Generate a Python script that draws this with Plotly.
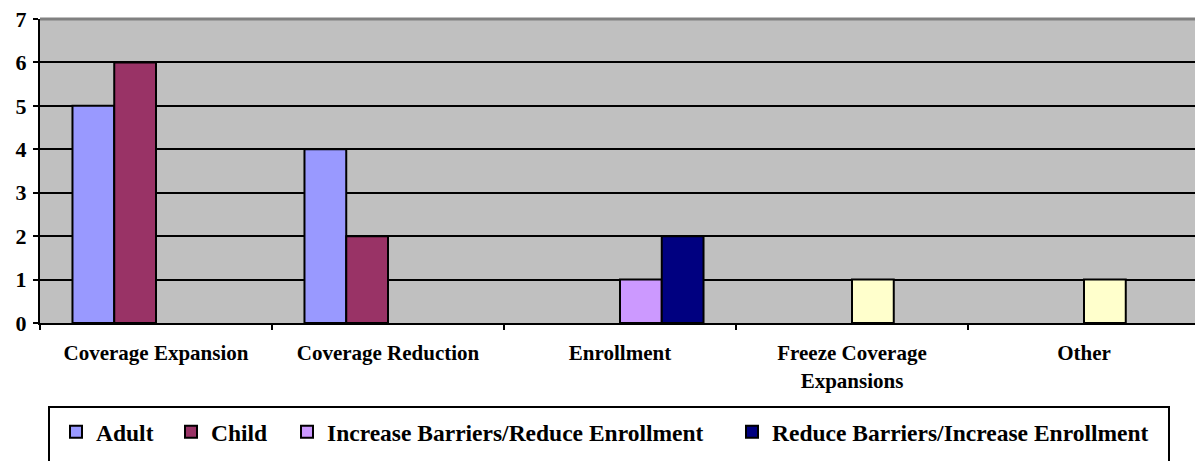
import plotly.graph_objects as go

categories = ["Coverage Expansion", "Coverage Reduction", "Enrollment",
              "Freeze Coverage<br>Expansions", "Other"]
adult = [5, 4, None, None, None]
child = [6, 2, None, None, None]
increase_barriers = [None, None, 1, 1, 1]
reduce_barriers = [None, None, 2, None, None]
series_names = ["Adult", "Child", "Increase Barriers/Reduce Enrollment",
                "Reduce Barriers/Increase Enrollment"]
y_ticks = [0, 1, 2, 3, 4, 5, 6, 7]

FONT = "Liberation Serif"
W, H = 1195, 461
L, T, B = 40, 19, 138
plot_w = W - L
plot_h = H - T - B
cat_px = 232.0

def px_x(px):
    return (px - L) / plot_w

def px_y(py):
    return (H - B - py) / plot_h

fig = go.Figure()
line = dict(color="black", width=2)
legend_ids = ["legend", "legend2", "legend3", "legend4"]
fig.add_bar(x=categories, y=adult, name=series_names[0], legend=legend_ids[0],
            marker=dict(color="#9999FF", line=line))
fig.add_bar(x=categories, y=child, name=series_names[1], legend=legend_ids[1],
            marker=dict(color="#993366", line=line))
fig.add_bar(x=categories, y=increase_barriers, name=series_names[2], legend=legend_ids[2],
            marker=dict(color=["#CC99FF", "#CC99FF", "#CC99FF", "#FFFFCC", "#FFFFCC"],
                        line=line))
fig.add_bar(x=categories, y=reduce_barriers, name=series_names[3], legend=legend_ids[3],
            marker=dict(color="#000080", line=line))

x_end = -0.5 + plot_w / cat_px

legend_square_px = [72, 187, 303, 748]
legend_font = dict(family=FONT, size=23.5, color="black", weight="bold")
legends = {}
for lid, sx in zip(legend_ids, legend_square_px):
    legends[lid] = dict(orientation="h", x=px_x(sx - 16), xanchor="left",
                        y=px_y(432), yanchor="middle", font=legend_font,
                        bgcolor="rgba(0,0,0,0)", borderwidth=0, itemwidth=30)

fig.update_layout(
    width=W, height=H,
    margin=dict(l=L, r=0, t=T, b=B, pad=0, autoexpand=False),
    paper_bgcolor="white", plot_bgcolor="#C0C0C0",
    barmode="group", bargap=0.28, bargroupgap=0,
    font=dict(family=FONT, color="black"),
    showlegend=True,
    hovermode=False,
    xaxis=dict(range=[-0.5, x_end], showgrid=False, showline=True,
               linecolor="black", linewidth=2, ticks="outside",
               tickson="boundaries", ticklen=5, tickwidth=2, tickcolor="black",
               tickfont=dict(family=FONT, size=21, weight="bold"),
               ticklabelstandoff=10, automargin=False, fixedrange=True),
    yaxis=dict(range=[0, 7], tickvals=y_ticks, showgrid=True, gridcolor="black",
               gridwidth=2, showline=True, linecolor="black", linewidth=2,
               ticks="outside", ticklen=5, tickwidth=2, tickcolor="black",
               tickfont=dict(family=FONT, size=22, weight="bold"),
               ticklabelstandoff=2, zeroline=False, automargin=False,
               fixedrange=True),
    shapes=[
        dict(type="line", xref="paper", yref="paper", x0=0, x1=1.02, y0=1, y1=1,
             line=dict(color="#808080", width=3), layer="above"),
        dict(type="rect", xref="paper", yref="paper",
             x0=px_x(49), x1=px_x(1169), y0=px_y(407), y1=px_y(480),
             line=dict(color="black", width=2), fillcolor="white", layer="below"),
    ],
    **legends,
)

fig.write_html("out.html", config={"displayModeBar": False},
               post_script="document.body.style.margin='0';document.body.style.overflow='hidden';")
